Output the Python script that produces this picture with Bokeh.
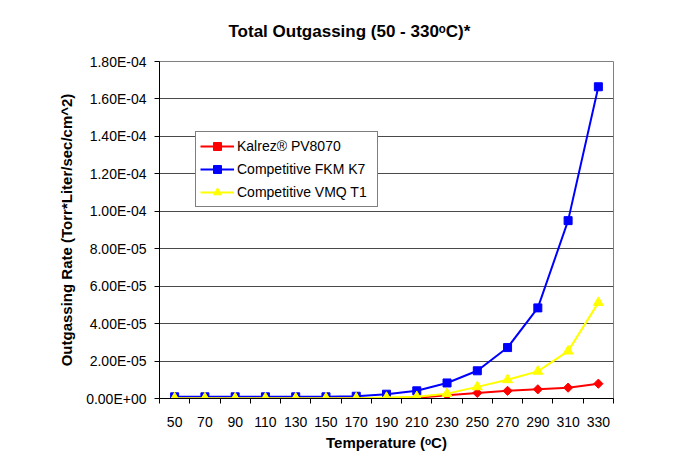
import math
from bokeh.plotting import figure
from bokeh.models import Range1d, FixedTicker, Legend, LegendItem
from bokeh.embed import file_html
from bokeh.resources import INLINE

# ---------------- data ----------------
temperatures = [50, 70, 90, 110, 130, 150, 170, 190, 210, 230, 250, 270, 290, 310, 330]
x_labels = ["50", "70", "90", "110", "130", "150", "170", "190", "210", "230",
            "250", "270", "290", "310", "330"]

kalrez_pv8070 = [1e-7, 1e-7, 1e-7, 1e-7, 1e-7, 1e-7, 1e-7, 2e-7, 3.5e-7, 1.8e-6,
                 3.0e-6, 4.1e-6, 4.9e-6, 5.8e-6, 7.9e-6]
fkm_k7 = [9e-7, 9e-7, 9e-7, 9e-7, 9e-7, 9e-7, 1.2e-6, 2.3e-6, 4.1e-6, 8.3e-6,
          1.48e-5, 2.72e-5, 4.84e-5, 9.5e-5, 1.665e-4]
vmq_t1 = [2e-7, 2e-7, 2e-7, 2e-7, 2e-7, 2e-7, 2e-7, 5e-7, 9e-7, 2.6e-6,
          6.2e-6, 1.0e-5, 1.45e-5, 2.53e-5, 5.12e-5]

series_names = ["Kalrez\u00ae PV8070", "Competitive FKM K7", "Competitive VMQ T1"]

y_ticks = [0.0, 2e-05, 4e-05, 6e-05, 8e-05, 1e-04, 1.2e-04, 1.4e-04, 1.6e-04, 1.8e-04]
y_labels = ["0.00E+00", "2.00E-05", "4.00E-05", "6.00E-05", "8.00E-05",
            "1.00E-04", "1.20E-04", "1.40E-04", "1.60E-04", "1.80E-04"]

chart_title = "Total Outgassing (50 - 330\u1d52C)*"
x_title = "Temperature (\u1d52C)"
y_title = "Outgassing Rate (Torr*Liter/sec/cm^2)"

# ---------------- figure ----------------
FONT = "Liberation Sans"
W, H = 671, 455
FL, FR, FT, FB = 159, 613, 61, 398  # frame box in canvas px

p = figure(width=W, height=H, output_backend="svg", toolbar_location=None,
           x_range=Range1d(40, 340), y_range=Range1d(0, 1.8e-4),
           min_border_left=FL, min_border_right=W - FR,
           min_border_top=FT, min_border_bottom=H - FB)
p.background_fill_color = "white"
p.border_fill_color = "white"
p.outline_line_color = "#808080"
p.outline_line_width = 1

# title
p.title.text = chart_title
p.title.align = "left"
p.title.offset = 69
p.title.vertical_align = "middle"
p.title.standoff = 39
p.title.text_font = FONT
p.title.text_font_size = "17px"
p.title.text_font_style = "bold"
p.title.text_color = "black"

# x axis (category-like: labels at centres, ticks at boundaries)
bounds = [t - 10 for t in temperatures] + [temperatures[-1] + 10]
xa = p.xaxis[0]
xa.ticker = FixedTicker(ticks=temperatures, minor_ticks=bounds)
xa.major_label_overrides = {t: l for t, l in zip(temperatures, x_labels)}
xa.major_tick_out = 0
xa.major_tick_in = 0
xa.minor_tick_out = 5
xa.minor_tick_in = 0
xa.minor_tick_line_color = "black"
xa.axis_line_color = "black"
xa.major_label_standoff = 13
xa.major_label_text_font = FONT
xa.major_label_text_font_size = "14px"
xa.major_label_text_color = "black"
xa.axis_label = x_title
xa.axis_label_standoff = 4
xa.axis_label_text_font = FONT
xa.axis_label_text_font_size = "15px"
xa.axis_label_text_font_style = "bold"
xa.axis_label_text_color = "black"

yticker = FixedTicker(ticks=y_ticks, minor_ticks=[])
ya = p.yaxis[0]
ya.ticker = yticker
ya.major_label_overrides = {t: l for t, l in zip(y_ticks, y_labels)}
ya.major_tick_out = 5
ya.major_tick_in = 0
ya.major_tick_line_color = "black"
ya.axis_line_color = "black"
ya.major_label_standoff = 8
ya.major_label_text_font = FONT
ya.major_label_text_font_size = "14px"
ya.major_label_text_color = "black"
ya.axis_label = y_title
ya.axis_label_standoff = 8
ya.axis_label_text_font = FONT
ya.axis_label_text_font_size = "15px"
ya.axis_label_text_font_style = "bold"
ya.axis_label_text_color = "black"

p.xgrid.visible = False
p.ygrid.ticker = yticker
p.ygrid.grid_line_color = "#4a4a4a"
p.ygrid.grid_line_width = 1

# ---------------- series ----------------
styles = [("#FF0000", "square", 6.5, math.pi / 4),
          ("#0000FF", "square", 8, 0.0),
          ("#FFFF00", "triangle", 10, 0.0)]
items = []
for name, ys, (col, mk, sz, ang) in zip(series_names, [kalrez_pv8070, fkm_k7, vmq_t1], styles):
    lr = p.line(temperatures, ys, line_color=col, line_width=2)
    sr = p.scatter(temperatures, ys, marker=mk, size=sz, angle=ang,
                   fill_color=col, line_color=col)
    items.append(LegendItem(label=name, renderers=[lr, sr]))

legend = Legend(items=items, location=(36, 191),
                border_line_color="black", border_line_width=1,
                background_fill_color="white", background_fill_alpha=1,
                label_text_font=FONT, label_text_font_size="14px",
                label_text_color="black",
                glyph_width=34, glyph_height=20, label_height=20, label_width=136,
                label_standoff=3, spacing=3, padding=4, margin=0)
p.add_layout(legend)

open("out.html", "w").write(file_html(p, INLINE))
